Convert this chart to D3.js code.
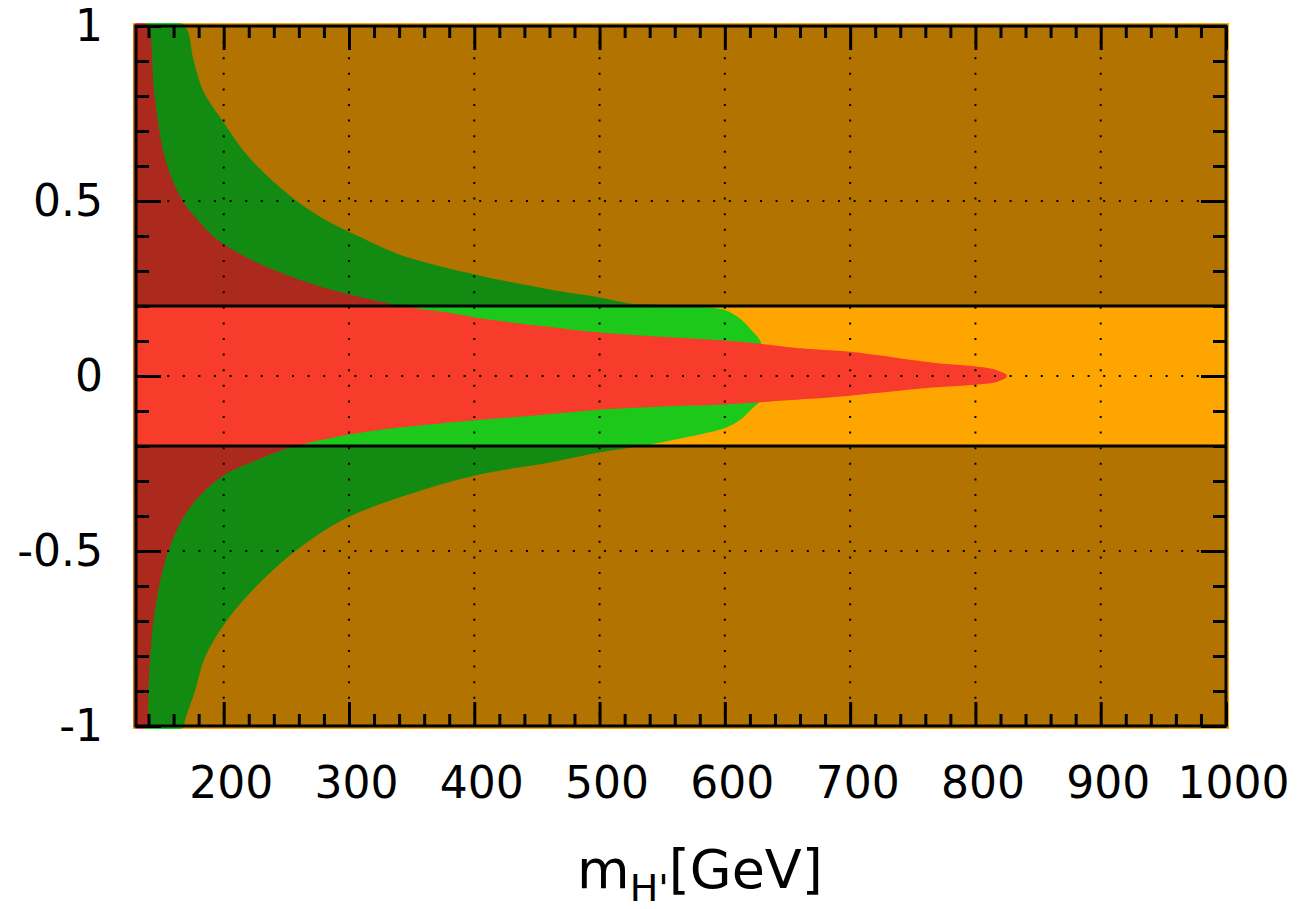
<!DOCTYPE html>
<html lang="en">
<head>
  <meta charset="UTF-8">
  <title>m_H' scan</title>
  <script src="https://d3js.org/d3.v7.min.js"></script>
  <style>
    body { margin: 0; background: #fff; }
    svg { display: block; font-family: "DejaVu Sans", sans-serif; }
  </style>
</head>
<body>
  <div id="chart"></div>

  <script>
    // region boundaries: [mass in GeV, coupling]
    const greenUpper = [[130, 1], [166, 1], [174, 0.9], [182, 0.81], [199, 0.717], [218, 0.623], [255, 0.5],
      [280, 0.44], [306, 0.394], [340, 0.34], [400, 0.283], [460, 0.24], [500, 0.217], [524, 0.2],
      [545, 0.197], [580, 0.19], [601, 0.18], [612, 0.155], [620, 0.125], [626, 0.1], [630, 0.05], [631, 0]];
    const greenLower = [[130, -1], [166, -1], [167, -0.983], [175, -0.9], [183, -0.803], [202, -0.689],
      [226, -0.591], [255, -0.497], [295, -0.403], [340, -0.34], [400, -0.277], [460, -0.24], [500, -0.211],
      [520, -0.2], [545, -0.185], [601, -0.14], [612, -0.117], [620, -0.089], [628, -0.06], [631, 0]];
    const redUpper = [[130, 1], [137, 1], [142.5, 0.81], [151, 0.623], [165, 0.5], [178, 0.44], [194, 0.383],
      [226, 0.317], [255, 0.275], [285, 0.24], [332, 0.2], [360, 0.183], [380, 0.174], [400, 0.16],
      [450, 0.137], [500, 0.117], [550, 0.105], [600, 0.094], [633, 0.083], [660, 0.072], [700, 0.062],
      [766, 0.031], [800, 0.02], [815, 0.012], [823, 0]];
    const redLower = [[130, -1], [137, -1], [137.5, -0.983], [138.5, -0.849], [143.5, -0.66], [154, -0.497],
      [171, -0.374], [199, -0.277], [225, -0.235], [250, -0.2], [300, -0.16], [340, -0.14], [380, -0.126],
      [450, -0.105], [500, -0.089], [550, -0.08], [600, -0.074], [660, -0.06], [700, -0.049], [766, -0.026],
      [800, -0.018], [815, -0.012], [823, 0]];

    const bandLimits = [-0.2, 0.2];
    const xTicks = [200, 300, 400, 500, 600, 700, 800, 900, 1000];
    const yTicks = [-1, -0.5, 0, 0.5, 1];
    const xDomain = [130, 1000];
    const yDomain = [-1, 1];

    const margin = { top: 26, right: 75, bottom: 183, left: 136 },
      width = 1301 - margin.left - margin.right,
      height = 909 - margin.top - margin.bottom;

    const root = d3.select("#chart")
      .append("svg")
      .attr("width", 1301)
      .attr("height", 909);

    // points of the scan spill a few pixels past the frame
    root.append("defs").append("clipPath")
      .attr("id", "spill")
      .append("rect")
      .attr("x", -3).attr("y", -3)
      .attr("width", width + 6).attr("height", height + 6);

    const svg = root.append("g")
      .attr("transform", `translate(${margin.left},${margin.top})`);

    const x = d3.scaleLinear().domain(xDomain).range([0, width]);
    const y = d3.scaleLinear().domain(yDomain).range([height, 0]);

    // smooth boundary, upper edge left->right then lower edge right->left
    const line = d3.line().x(d => x(d[0])).y(d => y(d[1])).curve(d3.curveCatmullRom.alpha(0.5));
    const region = (up, lo) => line(up) + line(lo.slice().reverse()).replace(/^M/, "L") + "Z";

    const layers = svg.append("g").attr("clip-path", "url(#spill)");

    // orange: everything allowed by the first constraint
    layers.append("rect")
      .attr("x", 0).attr("y", 0)
      .attr("width", width).attr("height", height)
      .attr("fill", "#ffa500")
      .attr("stroke", "#ffa500")
      .attr("stroke-width", 6);

    layers.append("path")
      .attr("d", region(greenUpper, greenLower))
      .attr("fill", "#1cc81a")
      .attr("stroke", "#1cc81a")
      .attr("stroke-width", 5)
      .attr("stroke-linejoin", "round");

    layers.append("path")
      .attr("d", region(redUpper, redLower))
      .attr("fill", "#f73c2b")
      .attr("stroke", "#f73c2b")
      .attr("stroke-width", 5)
      .attr("stroke-linejoin", "round");

    // shade outside the band |y| < 0.2
    svg.append("rect")
      .attr("x", 0).attr("y", 0)
      .attr("width", width).attr("height", y(bandLimits[1]))
      .attr("fill", "#000").attr("opacity", 0.3);
    svg.append("rect")
      .attr("x", 0).attr("y", y(bandLimits[0]))
      .attr("width", width).attr("height", height - y(bandLimits[0]))
      .attr("fill", "#000").attr("opacity", 0.3);

    // dotted grid
    svg.append("g")
      .selectAll("line")
      .data(xTicks.filter(d => d < 1000))
      .join("line")
      .attr("x1", d => x(d)).attr("x2", d => x(d))
      .attr("y1", 0).attr("y2", height)
      .attr("stroke", "#000").attr("stroke-width", 2)
      .attr("stroke-dasharray", "2,13.6");
    svg.append("g")
      .selectAll("line")
      .data(yTicks.filter(d => Math.abs(d) < 1))
      .join("line")
      .attr("x1", 0).attr("x2", width)
      .attr("y1", d => y(d)).attr("y2", d => y(d))
      .attr("stroke", "#000").attr("stroke-width", 2)
      .attr("stroke-dasharray", "2,13.6");

    // band edges
    svg.append("g")
      .selectAll("line")
      .data(bandLimits)
      .join("line")
      .attr("x1", 0).attr("x2", width)
      .attr("y1", d => y(d)).attr("y2", d => y(d))
      .attr("stroke", "#000").attr("stroke-width", 3.2);

    // axes, ticks pointing inwards on all four sides
    const xMinor = d3.range(140, 1000, 20).filter(d => d % 100 !== 0);
    const yMinor = d3.range(-9, 10).map(d => d / 10).filter(d => Math.abs(d) !== 0.5 && d !== 0);

    const styleAxis = g => {
      g.select(".domain").remove();
      g.selectAll(".tick line").attr("stroke", "#000").attr("stroke-width", 3);
      g.selectAll("text").attr("fill", "#000").attr("font-size", 44)
        .attr("font-family", "DejaVu Sans, sans-serif");
    };

    svg.append("g")
      .attr("transform", `translate(0,${height})`)
      .call(d3.axisBottom(x).tickValues(xTicks).tickSize(-24).tickPadding(41).tickFormat(d => String(d)))
      .call(styleAxis)
      .call(g => g.selectAll("text").attr("dx", 7));
    svg.append("g")
      .attr("transform", `translate(0,${height})`)
      .call(d3.axisBottom(x).tickValues(xMinor).tickSize(-12).tickFormat(""))
      .call(styleAxis);
    svg.append("g")
      .call(d3.axisTop(x).tickValues(xTicks).tickSize(-24).tickFormat(""))
      .call(styleAxis);
    svg.append("g")
      .call(d3.axisTop(x).tickValues(xMinor).tickSize(-12).tickFormat(""))
      .call(styleAxis);

    svg.append("g")
      .call(d3.axisLeft(y).tickValues(yTicks).tickSize(-25).tickPadding(33).tickFormat(d => String(d)))
      .call(styleAxis);
    svg.append("g")
      .call(d3.axisLeft(y).tickValues(yMinor).tickSize(-13).tickFormat(""))
      .call(styleAxis);
    svg.append("g")
      .attr("transform", `translate(${width},0)`)
      .call(d3.axisRight(y).tickValues(yTicks).tickSize(-25).tickFormat(""))
      .call(styleAxis);
    svg.append("g")
      .attr("transform", `translate(${width},0)`)
      .call(d3.axisRight(y).tickValues(yMinor).tickSize(-13).tickFormat(""))
      .call(styleAxis);

    // frame
    svg.append("rect")
      .attr("width", width).attr("height", height)
      .attr("fill", "none").attr("stroke", "#000").attr("stroke-width", 3);

    // x axis title
    const title = svg.append("text")
      .attr("x", 700 - margin.left)
      .attr("y", 888 - margin.top)
      .attr("text-anchor", "middle")
      .attr("font-size", 54)
      .attr("fill", "#000");
    title.append("tspan").text("m");
    title.append("tspan").attr("font-size", 38).attr("dy", 13).text("H'");
    title.append("tspan").attr("dy", -13).text("[GeV]");
  </script>
</body>
</html>
